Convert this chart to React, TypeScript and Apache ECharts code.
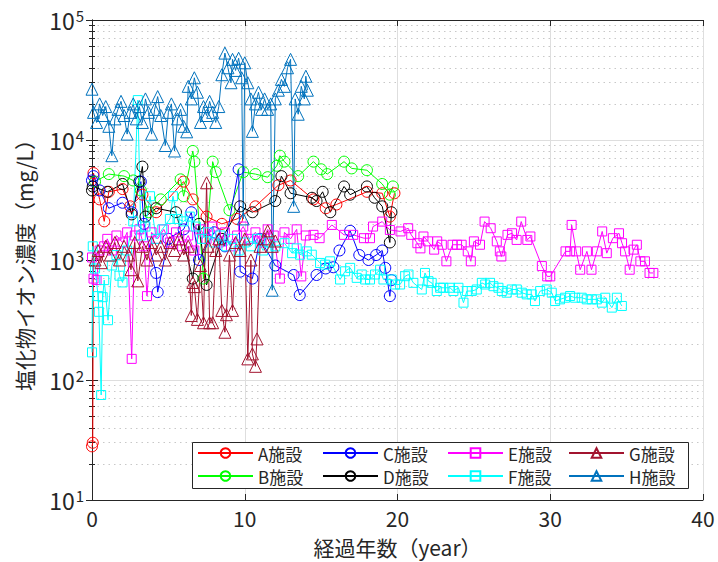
import React, { useEffect, useRef } from "react";
import * as echarts from "echarts";

const FONT = "'Noto Sans CJK JP', 'Noto Sans', sans-serif";
const TXT = "#262626";

const xTickValues = [0, 10, 20, 30, 40];
const yExponents = [1, 2, 3, 4, 5];

const seriesNames = ["A施設", "B施設", "C施設", "D施設", "E施設", "F施設", "G施設", "H施設"];
const seriesColors = ["#FF0000", "#00FF00", "#0000FF", "#000000", "#FF00FF", "#00FFFF", "#A2142F", "#0072BD"];
const seriesSymbols = ["circle", "circle", "circle", "circle", "rect", "rect", "triangle", "triangle"];
const legendColumns = [["A施設", "B施設"], ["C施設", "D施設"], ["E施設", "F施設"], ["G施設", "H施設"]];

const dataA = [[0,28],[0.05,30],[0.1,5300],[0.5,3200],[0.8,2100],[1.1,3700],[2,3900],[2.5,2800],[3.3,3500],[4.2,2500],[6,4500],[6.6,3200],[7.5,2300],[8.5,2000],[9.5,2200],[10.7,2800],[12.2,4200],[13,4600],[14.5,3200],[15.3,2700],[16,2900],[18,3700],[19,3600],[19.5,2300],[19.8,3600]];
const dataB = [[0.2,4500],[1.1,5200],[2.1,5000],[2.7,4600],[3.2,3800],[3.7,2500],[4.5,3200],[5.8,4700],[6,3400],[6.6,8100],[6.7,6600],[7.3,700],[7.9,6600],[8.1,5400],[9,2600],[9.9,5400],[10.7,5200],[11.5,4900],[12.1,6100],[12.3,7400],[12.6,6600],[13.5,5000],[14.5,6600],[15,5700],[15.4,5200],[16.5,6600],[17,5800],[18,5600],[19,4300],[19.5,3500],[19.7,4100]];
const dataC = [[0,4600],[0.1,5000],[0.5,3800],[1.1,2700],[2,3000],[2.6,2500],[3.2,4500],[3.4,2000],[4.2,780],[4.3,540],[5,1500],[6,1800],[6.5,2500],[7,1000],[8,1700],[8.7,1300],[9.6,5700],[9.7,800],[10.5,700],[11,1500],[12,900],[13.2,750],[13.6,510],[14.7,750],[15.3,850],[15.8,870],[16.2,1200],[16.9,1750],[17.5,1100],[18.1,1000],[18.6,1100],[19,1200],[19.2,860],[19.5,500],[19.6,680]];
const dataD = [[0,3800],[0.05,4100],[1,3700],[2,4300],[2.6,2400],[3.1,4500],[3.3,6000],[3.5,2300],[4.2,2700],[5.5,2500],[6.6,700],[7,2000],[7.5,620],[8.5,1500],[9.7,2800],[10.5,2500],[12,3100],[12.4,5000],[13,3600],[14.4,3300],[14.7,3100],[15.1,3700],[15.6,2500],[16.5,4100],[16.9,3500],[18,4100],[18.5,3300],[19,2800],[19.5,1400],[19.6,2500]];
const dataE = [[0,1050],[0.1,700],[0.3,680],[0.5,1200],[0.8,1300],[1,1500],[1.3,1200],[1.6,1600],[2,1400],[2.3,1700],[2.6,150],[2.8,1600],[3.1,1800],[3.4,1300],[3.6,500],[3.9,1700],[4.3,1500],[4.7,1800],[5.1,1400],[5.5,1700],[5.9,1300],[6.3,1600],[6.7,1200],[7.1,1800],[7.5,1500],[7.9,1900],[8.3,1400],[8.7,1700],[9.1,1300],[9.5,1600],[9.9,1900],[10.3,1500],[10.7,1700],[11.1,1400],[11.5,1800],[11.9,1600],[12.3,700],[12.6,1700],[13,1500],[13.4,1800],[13.7,730],[14,1600],[14.5,1620],[14.9,1520],[15.7,1960],[16.5,1620],[17.1,1620],[17.8,1520],[18.2,1520],[18.4,1900],[19,2090],[19.5,1780],[20.2,1730],[20.7,1840],[20.9,1620],[21.3,1380],[21.5,1250],[21.7,1570],[22,1430],[22.4,1220],[22.6,1430],[22.9,1340],[23.2,975],[23.6,1340],[23.9,1340],[24.2,1340],[24.6,1180],[24.8,975],[25,1430],[25.4,1340],[25.7,2090],[26.1,1840],[26.5,1430],[26.7,1180],[26.8,1070],[27.2,1620],[27.5,1670],[27.8,1470],[28.1,2090],[28.5,1470],[28.7,1570],[29.45,890],[29.8,730],[30,730],[31,1180],[31.3,1180],[31.4,1960],[31.7,1180],[31.96,830],[32.4,1180],[32.7,830],[33.05,1180],[33.4,1730],[33.7,1140],[34.1,1520],[34.5,1670],[34.7,1380],[34.9,1180],[35.2,830],[35.45,1220],[35.67,1340],[35.9,975],[36.2,975],[36.5,780],[36.75,780]];
const dataF = [[0,170],[0.05,1300],[0.2,850],[0.4,500],[0.45,370],[0.6,75],[0.7,490],[0.8,680],[1.05,315],[1.3,900],[1.6,1100],[1.8,740],[2,650],[2.3,1200],[2.7,2100],[3,21500],[3.2,1600],[3.5,1900],[3.8,3400],[4.2,1500],[4.6,1800],[5.1,2200],[5.3,3400],[5.6,2200],[6,2100],[6.4,2300],[6.8,1900],[7.2,1500],[7.6,1700],[8,1400],[8.4,1600],[8.8,1300],[9.2,1500],[9.6,1200],[10,1400],[10.4,1300],[10.8,1500],[11.2,1200],[11.6,1400],[12,1300],[12.6,1380],[13.1,1140],[13.4,1250],[13.62,1107],[14.06,1180],[14.39,1107],[14.93,945],[15.26,915],[15.59,975],[16.24,688],[16.57,805],[16.9,860],[17.33,710],[17.66,757],[17.88,688],[18.2,688],[18.53,757],[18.86,830],[19.08,688],[19.62,688],[19.84,625],[20.17,625],[20.5,733],[20.72,757],[21.04,645],[21.59,568],[21.8,780],[22.03,666],[22.24,645],[22.57,551],[22.79,587],[23,587],[23.44,587],[23.66,551],[23.99,587],[24.32,441],[24.54,551],[24.86,551],[25.19,568],[25.52,645],[25.74,625],[26.06,645],[26.28,605],[26.61,587],[26.83,551],[27.15,534],[27.48,568],[27.81,568],[28.14,534],[28.46,517],[28.79,517],[29,455],[29.34,551],[29.77,568],[30.1,534],[30.32,455],[30.64,470],[30.97,485],[31.3,501],[31.63,485],[32.06,485],[32.39,470],[32.72,470],[33.05,470],[33.38,441],[33.6,485],[34.03,401],[34.36,485],[34.69,414]];
const dataG = [[0.2,1000],[0.4,1200],[0.6,950],[0.9,1300],[1.2,1100],[1.5,1400],[1.8,1000],[2.1,1300],[2.4,1100],[2.55,830],[2.8,1400],[3,670],[3.3,1300],[3.6,1000],[3.9,1400],[4.2,1100],[4.5,1300],[4.8,1000],[5.1,1400],[5.4,1200],[5.7,1500],[6,1100],[6.3,1300],[6.5,345],[6.6,650],[6.7,600],[6.9,320],[7.1,900],[7.3,300],[7.5,4400],[7.6,1300],[7.7,300],[7.9,300],[8.1,1200],[8.3,1500],[8.5,380],[8.7,250],[8.8,350],[9,1100],[9.2,380],[9.4,1400],[9.7,1200],[10,1500],[10.2,150],[10.4,1000],[10.5,165],[10.7,130],[10.8,220],[11,1300],[11.3,1500],[11.5,1750],[11.8,1300],[12,1440]];
const dataH = [[0,26500],[0.1,17000],[0.3,14000],[0.5,20000],[0.7,16000],[0.9,19000],[1.1,13000],[1.3,7400],[1.5,15000],[1.7,18000],[1.9,21000],[2.1,16000],[2.3,11200],[2.5,17000],[2.7,20000],[2.9,15000],[3.1,19000],[3.3,14000],[3.5,22000],[3.7,17000],[3.9,11200],[4.1,18000],[4.3,23000],[4.5,16000],[4.8,9000],[5,17000],[5.2,20000],[5.4,8100],[5.6,15000],[5.8,18000],[6,13000],[6.2,11700],[6.3,28000],[6.5,22000],[6.7,33000],[6.9,25000],[7.1,14000],[7.3,19000],[7.5,16000],[7.7,21000],[7.9,17000],[8.1,14000],[8.3,19000],[8.5,35000],[8.7,53000],[8.9,40000],[9.1,30000],[9.2,47000],[9.4,38000],[9.6,48000],[9.8,33000],[9.9,2200],[10,44000],[10.2,30000],[10.4,22000],[10.5,11800],[10.7,20000],[10.9,25000],[11.1,18000],[11.3,22000],[11.5,18000],[11.7,20000],[11.8,560],[12,22000],[12.2,26000],[12.4,32000],[12.6,28000],[12.8,40000],[13,47000],[13.2,2800],[13.3,22000],[13.5,16400],[13.7,28000],[13.9,22000],[14,34000],[14.1,26000]];

const allData = [dataA, dataB, dataC, dataD, dataE, dataF, dataG, dataH];
const symbolSizes: Record<string, number> = { circle: 11, rect: 9, triangle: 12 };

export default function App() {
  const ref = useRef<HTMLDivElement>(null);
  useEffect(() => {
    if (!ref.current) return;
    const chart = echarts.init(ref.current, null, { renderer: "svg" });
    const series = seriesNames.map((name, i) => ({
      type: "line",
      name,
      data: allData[i],
      symbol: seriesSymbols[i],
      symbolSize: symbolSizes[seriesSymbols[i]],
      showAllSymbol: true,
      clip: true,
      lineStyle: { color: seriesColors[i], width: 1 },
      itemStyle: { color: "rgba(255,255,255,0)", borderColor: seriesColors[i], borderWidth: 1 },
      emphasis: { disabled: true },
      z: 2,
    }));
    const yLabel = (v: number) => "{b|10}{s|" + Math.round(Math.log10(v)) + "}";
    const option: any = {
      animation: false,
      backgroundColor: "#fff",
      textStyle: { fontFamily: FONT },
      grid: { left: 92, top: 20, right: 15, bottom: 58, containLabel: false },
      xAxis: [
        {
          type: "value", min: xTickValues[0], max: xTickValues[xTickValues.length - 1], interval: 10,
          name: "経過年数（year）", nameLocation: "middle", nameGap: 36,
          nameTextStyle: { fontSize: 21, color: TXT, fontFamily: FONT },
          axisLine: { show: true, lineStyle: { color: TXT, width: 1 } },
          axisTick: { show: true, inside: true, length: 6, lineStyle: { color: TXT } },
          axisLabel: { fontSize: 21, color: TXT, margin: 7, fontFamily: FONT },
          splitLine: { show: true, lineStyle: { color: "#dedede", width: 1 } },
        },
        {
          type: "value", position: "top", min: 0, max: 40, interval: 10,
          axisLine: { show: true, lineStyle: { color: TXT, width: 1 } },
          axisTick: { show: true, inside: true, length: 6, lineStyle: { color: TXT } },
          axisLabel: { show: false }, splitLine: { show: false },
        },
      ],
      yAxis: [
        {
          type: "log", logBase: 10, min: 10, max: 100000,
          name: "塩化物イオン濃度（mg/L）", nameLocation: "middle", nameGap: 58, nameRotate: 90,
          nameTextStyle: { fontSize: 21, color: TXT, fontFamily: FONT },
          axisLine: { show: true, lineStyle: { color: TXT, width: 1 } },
          axisTick: { show: true, inside: true, length: 6, lineStyle: { color: TXT } },
          minorTick: { show: true, splitNumber: 9, length: 3, lineStyle: { color: TXT } },
          axisLabel: {
            formatter: yLabel, margin: 8, color: TXT,
            rich: {
              b: { fontSize: 23, color: TXT, fontFamily: FONT },
              s: { fontSize: 15, color: TXT, fontFamily: FONT, verticalAlign: "top", padding: [0, 0, 10, 1] },
            },
          },
          splitLine: { show: true, lineStyle: { color: "#dedede", width: 1 } },
          minorSplitLine: { show: true, lineStyle: { color: "#c8c8c8", width: 1, type: [1.5, 4] } },
        },
        {
          type: "log", logBase: 10, min: 10, max: 100000, position: "right",
          axisLine: { show: true, lineStyle: { color: TXT, width: 1 } },
          axisTick: { show: true, inside: true, length: 6, lineStyle: { color: TXT } },
          minorTick: { show: true, splitNumber: 9, length: 3, lineStyle: { color: TXT } },
          axisLabel: { show: false }, splitLine: { show: false },
        },
      ],
      legend: legendColumns.map((col, i) => ({
        data: col,
        orient: "vertical",
        left: [197, 322, 447, 568][i],
        top: 444,
        padding: 0,
        itemWidth: 55,
        itemHeight: 12,
        itemGap: 5,
        selectedMode: false,
        textStyle: { fontSize: 17, lineHeight: 18, color: TXT, fontFamily: FONT },
        z: 20,
      })),
      graphic: [
        {
          type: "rect", z: 15,
          shape: { x: 192.5, y: 442.5, width: 496, height: 46 },
          style: { fill: "#fff", stroke: TXT, lineWidth: 1 },
        },
      ],
      series,
    };
    chart.setOption(option);
    return () => chart.dispose();
  }, []);
  return <div ref={ref} style={{ position: "fixed", left: 0, top: 0, width: 718, height: 562 }} />;
}
